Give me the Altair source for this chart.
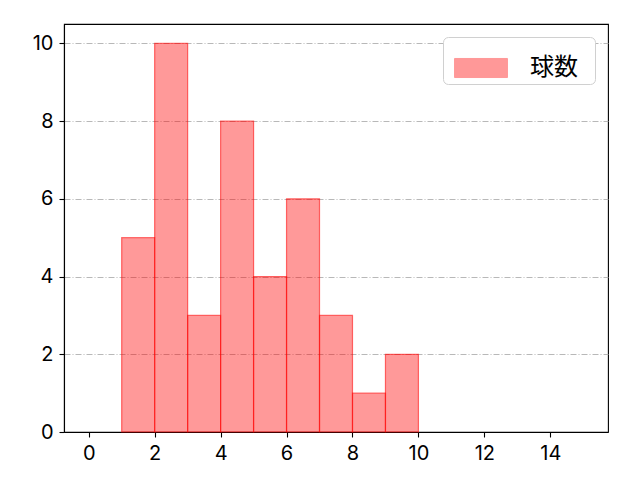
import altair as alt
import pandas as pd

bin_start = [1, 2, 3, 4, 5, 6, 7, 8, 9]
bin_end = [2, 3, 4, 5, 6, 7, 8, 9, 10]
counts = [5, 10, 3, 8, 4, 6, 3, 1, 2]
series = ["球数"] * len(counts)
x_ticks = [0, 2, 4, 6, 8, 10, 12, 14]
y_ticks = [0, 2, 4, 6, 8, 10]

df = pd.DataFrame({"start": bin_start, "end": bin_end, "count": counts, "series": series})

CJK = "Noto Sans CJK JP"
NUM = "Inter"
FS = 20

axis_common = dict(title=None, labelFontSize=FS, labelFont=NUM, labelColor="black",
                   tickColor="black", domainColor="black", tickSize=5, tickWidth=1.1,
                   domainWidth=1.1, labelPadding=6)

chart = alt.Chart(df).mark_rect(
    fillOpacity=0.4, strokeOpacity=0.55, strokeWidth=1.2
).encode(
    x=alt.X("start:Q", scale=alt.Scale(domain=[-0.75, 15.75], nice=False, zero=False),
            axis=alt.Axis(values=x_ticks, grid=False, **axis_common)),
    x2="end:Q",
    y=alt.Y("count:Q", scale=alt.Scale(domain=[0, 10.5], nice=False),
            axis=alt.Axis(values=y_ticks, grid=True, gridDash=[6, 2, 1, 2],
                          gridColor="#b0b0b0", gridWidth=0.9, **axis_common)),
    y2=alt.datum(0),
    color=alt.Color("series:N", scale=alt.Scale(range=["#ff0000"]),
                    legend=alt.Legend(title="00", titleOrient="right", titleFontSize=9,
                                      titlePadding=0, titleOpacity=0, titleFont=NUM,
                                      orient="top-right", offset=13,
                                      symbolType="M-1,-0.36H1V0.36H-1Z", symbolSize=2800,
                                      symbolOpacity=0.4, symbolStrokeWidth=1,
                                      symbolOffset=7,
                                      labelFontSize=24, labelFont=CJK, labelColor="black",
                                      strokeColor="#d0d0d0", fillColor="white", cornerRadius=5,
                                      padding=4, labelOffset=22)),
    stroke=alt.value("#ff0000"),
).properties(
    width=544, height=408,
    autosize=alt.AutoSizeParams(type="none"),
    padding={"left": 56, "top": 16, "right": 24, "bottom": 40},
).configure(font=CJK).configure_view(stroke="black", strokeWidth=1.1)

chart.save("out.html", embed_options={"renderer": "svg", "actions": False})
